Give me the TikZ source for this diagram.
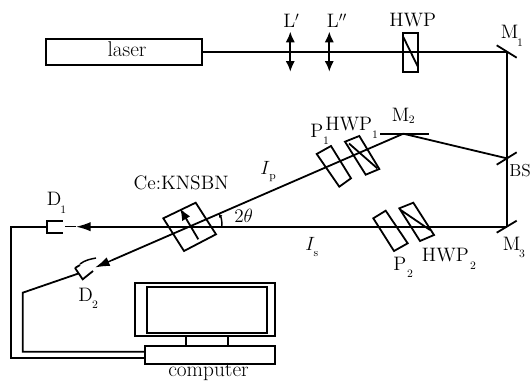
\documentclass[tikz,border=0pt]{standalone}
\usetikzlibrary{arrows.meta}
\tikzset{
 ln/.style={line width=1.35pt},
 thin ln/.style={line width=1.1pt},
 lbl/.style={inner sep=0pt,anchor=base west,font=\fontsize{14.6}{15}\selectfont},
 big/.style={inner sep=0pt,anchor=base west,font=\fontsize{16}{17}\selectfont},
 sb/.style={inner sep=0pt,font=\fontsize{8.5}{9}\selectfont},
 dtip/.style={{Latex[length=8pt,width=7pt]}-{Latex[length=8pt,width=7pt]}},
 tip/.style={-{Latex[length=11pt,width=7pt]}},
}
\begin{document}
\begin{tikzpicture}[x=0.75pt,y=-0.75pt]
\useasboundingbox (0,0) rectangle (532,381);
% junctions
\node[draw,ln,minimum width=117pt,minimum height=19.5pt,inner sep=0pt] (laser) at (124,51.7) {};
\node[big,anchor=base] (lasertxt) at (127,57) {laser};
\coordinate (m1) at (506.7,51.7);
\coordinate (bs) at (506.7,158.3);
\coordinate (m3) at (506.7,226.7);
\coordinate (m2) at (403.3,133.7);
\coordinate (d1in) at (65,226.7);
\coordinate (d2in) at (95,267.5);
% beams
\draw[ln] (laser.east) -- (m1) -- (bs) -- (m3);
\draw[ln] (m2) -- (bs);
\draw[ln] (m3) -- (90,226.7);
\draw[ln] (m2) -- (112,260.2);
\draw[thin ln,tip] (90,226.7) -- (76,226.7);
\draw[thin ln] (76,226.7) -- (d1in);
\draw[thin ln,tip] (112,260.2) -- (d2in);
% mirrors
\draw[ln] (496.7,45.3) -- (516.7,57.7);
\draw[ln] (496.7,164.7) -- (516.7,152.3);
\draw[ln] (496.7,232.7) -- (516.7,220.7);
\draw[ln] (380,133.7) -- (429.3,133.7);
% lenses
\coordinate (la) at (290.3,31.7); \coordinate (lb) at (290.3,71.7);
\coordinate (lc) at (329.3,31.7); \coordinate (ld) at (329.3,71.7);
\draw[ln,dtip] (la) -- (lb);
\draw[ln,dtip] (lc) -- (ld);
% top HWP
\draw[ln] (403.3,33) rectangle (418,72.3);
\draw[ln] (403.3,37) -- (418,67);
% P1, HWP1
\draw[ln] (316.7,154) -- (331,146) -- (351,178.3) -- (339.3,186.7) -- cycle;
\draw[ln] (345,141.7) -- (359.3,136) -- (379.3,169) -- (365.7,174.7) -- cycle;
\draw[ln] (349,143.5) -- (377.3,168.3);
% P2, HWP2
\draw[ln] (373.3,218.3) -- (385.7,210.7) -- (407.7,243.3) -- (394,251) -- cycle;
\draw[ln] (399.3,208.3) -- (413.3,202.7) -- (434,235) -- (420,241) -- cycle;
\draw[ln] (400.7,210) -- (430,230);
% crystal
\draw[ln] (163.3,218.3) -- (195.7,202.7) -- (216,234.3) -- (184,251) -- cycle;
\draw[ln,-{Latex[length=9pt,width=7pt]}] (198.3,239.3) -- (180,208.3);
% angle
\draw[thin ln,-{Latex[length=3pt,width=3pt]}] (221.7,226.7) .. controls (222.5,222) and (221,217) .. (218.5,213.5);
% detectors
\draw[ln] (62.7,220.7) -- (46.7,220.7) -- (46.7,232.7) -- (62.7,232.7);
\draw[ln] (75,268) -- (82.7,279.3) -- (93,271);
\draw[ln] (80,265) -- (75,268);
\draw[thin ln] (80,264) .. controls (85,260) and (91,259) .. (96,258);
% computer
\draw[ln] (135,283) rectangle (275,336);
\draw[ln] (147.3,287.3) rectangle (266.7,333.3);
\node[draw,ln,minimum width=97.3pt,minimum height=13.5pt,inner sep=0pt] (base) at (210.2,355) {};
\draw[ln] (186,336) -- (186,346);
\draw[ln] (228,336) -- (228,346);
% wires
\coordinate (w1a) at (46.7,226.7);
\coordinate (w1b) at (11,226.7);
\coordinate (w1c) at (11,357.7);
\coordinate (w2a) at (78.5,273.5);
\coordinate (w2b) at (22.7,292.7);
\coordinate (w2c) at (22.7,351.7);
\draw[ln] (w1a) -- (w1b) -- (w1c) -- (base.west |- w1c);
\draw[ln] (w2a) -- (w2b) -- (w2c) -- (base.west |- w2c);
% labels
\node[big] (comp) at (168,376.7) {computer};
\node[lbl] (lp) at (283,28) {L$'$};
\node[lbl] (lpp) at (326.7,28) {L$''$};
\node[lbl] (hwp) at (389,26.7) {HWP};
\node[lbl] (m1t) at (500.7,38.3) {M};  \node[sb] (m1s) at (520,43) {1};
\node[lbl] (m2t) at (391.7,121.7) {M}; \node[sb] (m2s) at (411.7,119.3) {2};
\node[lbl] (m3t) at (502.7,250) {M};   \node[sb] (m3s) at (522,254) {3};
\node[lbl,font=\fontsize{13}{14}\selectfont] (bst) at (509,176.7) {BS};
\node[lbl] (h1) at (325,130.7) {HWP};  \node[sb] (h1s) at (375,135) {1};
\node[lbl] (p1) at (310,137.3) {P};    \node[sb] (p1s) at (326,141) {1};
\node[lbl] (h2) at (421.7,261.7) {HWP};\node[sb] (h2s) at (473,266) {2};
\node[lbl] (p2) at (393,270) {P};      \node[sb] (p2s) at (410,273.5) {2};
\node[lbl] (d1t) at (46.7,206) {D};    \node[sb] (d1s) at (63.3,209.3) {1};
\node[lbl] (d2t) at (78,301.7) {D};    \node[sb] (d2s) at (95,305) {2};
\node[lbl] (ce) at (133.3,190) {Ce:KNSBN};
\node[lbl] (th) at (234,222.7) {$2\theta$};
\node[lbl] (ip) at (260,175) {$I$};    \node[sb] (ips) at (272.5,178.5) {p};
\node[lbl] (is) at (305,250) {$I$};    \node[sb] (iss) at (316,254.5) {s};
\end{tikzpicture}
\end{document}
